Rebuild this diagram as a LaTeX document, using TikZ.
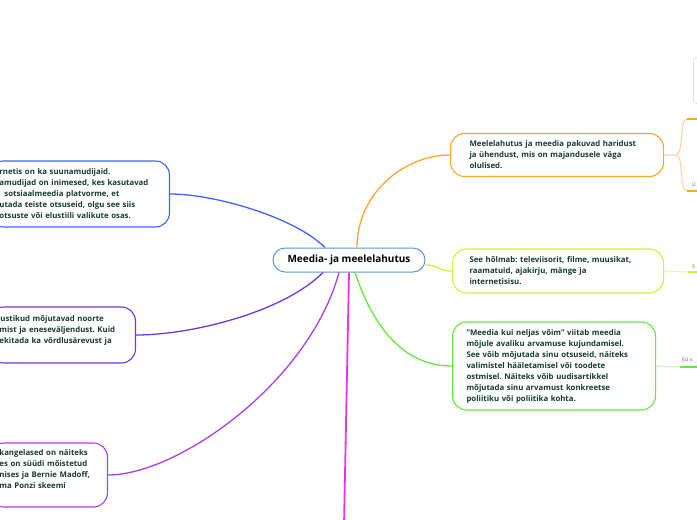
\documentclass[tikz,border=0pt]{standalone}
\usepackage{fontspec}
\setmainfont{Open Sans}
\usepackage{xcolor}
\usetikzlibrary{positioning}
\frenchspacing

\definecolor{mapink}{RGB}{22,62,46}
\definecolor{hubblue}{RGB}{91,155,213}
\definecolor{branchorange}{RGB}{250,168,40}
\definecolor{branchlime}{RGB}{212,240,50}
\definecolor{branchgreen}{RGB}{96,235,60}
\definecolor{branchmagenta}{RGB}{235,50,235}
\definecolor{branchviolet}{RGB}{175,60,240}
\definecolor{branchindigo}{RGB}{110,55,235}
\definecolor{branchblue}{RGB}{60,100,250}

\begin{document}
\begin{tikzpicture}[
  x=1pt, y=-1pt,
  every node/.style={font=\fontsize{7.8}{11}\selectfont\bfseries, text=mapink},
  link/.style={line width=1.3pt},
  twiglink/.style={line width=1pt},
  topicbox/.style={
    rounded corners=14pt,
    draw,
    line width=1.1pt,
    fill=white,
    align=left,
    inner ysep=4pt
  },
  hubbox/.style={
    rounded corners=12pt,
    draw=hubblue,
    line width=1pt,
    fill=white,
    minimum width=152pt,
    minimum height=24pt,
    font=\fontsize{10}{12}\selectfont\bfseries,
    text=black
  },
  twiglabel/.style={font=\fontsize{5}{6}\selectfont, text=gray!70!black, inner sep=0pt}
]
\useasboundingbox (0,0) rectangle (697,520);
\clip (0,0) rectangle (697,520);

\node[hubbox] (hub) at (349,260) {Meedia- ja meelelahutus};

\node[topicbox, draw=branchorange, anchor=west, text width=175pt, inner xsep=19pt, minimum height=43pt] (fun) at (450,155) {
  Meelelahutus ja meedia pakuvad haridust\\
  ja ühendust, mis on majandusele väga\\
  olulised.
};

\node[topicbox, draw=branchlime, anchor=west, text width=177pt, inner xsep=17pt, minimum height=44pt] (scope) at (452,271) {
  See hõlmab: televiisorit, filme, muusikat,\\
  raamatuid, ajakirju, mänge ja\\
  internetisisu.
};

\node[topicbox, draw=branchgreen, anchor=west, text width=175pt, inner xsep=14pt, minimum height=88pt] (power) at (452,366) {
  "Meedia kui neljas võim" viitab meedia\\
  mõjule avaliku arvamuse kujundamisel.\\
  See võib mõjutada sinu otsuseid, näiteks\\
  valimistel hääletamisel või toodete\\
  ostmisel. Näiteks võib uudisartikkel\\
  mõjutada sinu arvamust konkreetse\\
  poliitiku või poliitika kohta.
};

\node[topicbox, draw=branchblue, anchor=east, text width=160pt, inner xsep=10pt, minimum height=66pt] (infl) at (170,194) {
  rnetis on ka suunamudijaid.\\
  amudijad on inimesed, kes kasutavad\\
  \hspace*{5pt}sotsiaalmeedia platvorme, et\\
  utada teiste otsuseid, olgu see siis\\
  otsuste või elustiili valikute osas.
};

\node[topicbox, draw=branchindigo, anchor=east, text width=126pt, inner xsep=10pt, minimum height=56pt] (youth) at (136,335) {
  \hspace*{1pt}ustikud mõjutavad noorte\\
  mist ja eneseväljendust. Kuid\\
  ekitada ka võrdlusärevust ja\\
  \mbox{}
};

\node[topicbox, draw=branchviolet, anchor=east, text width=98pt, inner xsep=10pt, minimum height=64pt] (crime) at (108,475) {
  kangelased on näiteks\\
  es on süüdi mõistetud\\
  nises ja Bernie Madoff,\\
  ma Ponzi skeemi\\
  \mbox{}
};

\node[draw=gray!25, line width=0.8pt, rounded corners=3pt, minimum width=40pt, minimum height=46pt, anchor=north west] (funpic) at (693,57) {};

\node[twiglabel, anchor=base west] (funlow) at (692,186) {Ü};
\node[twiglabel, anchor=base west] (scopetag) at (692,268) {S};
\node[twiglabel, anchor=base west] (powertag) at (682,361) {EU s};

\coordinate (funfork) at (676,155);
\coordinate (funupbend) at (687,119);
\coordinate (funupend) at (700,119);
\coordinate (funlowbend) at (687,191);
\coordinate (funlowend) at (700,191);
\coordinate (scopebend) at (688,272);
\coordinate (scopeend) at (700,272);
\coordinate (powerbend) at (680,367);
\coordinate (powerend) at (700,367);
\coordinate (mediaend) at (344,525);

\draw[link, draw=branchorange] ([xshift=8pt]hub.north) .. controls +(0,-55) and +(-45,0) .. (fun.west);
\draw[link, draw=branchblue] ([xshift=-24pt]hub.north) .. controls +(-30,-30) and +(45,0) .. (infl.east);
\draw[link, draw=branchindigo] ([xshift=-26pt]hub.south) .. controls +(-40,40) and +(55,0) .. (youth.east);
\draw[link, draw=branchviolet] ([xshift=-10pt]hub.south) .. controls +(-30,110) and +(70,0) .. (crime.east);
\draw[link, draw=branchmagenta, line width=1.8pt] (hub.south) -- (mediaend);
\draw[link, draw=branchgreen] ([xshift=6pt]hub.south) .. controls +(20,60) and +(-45,0) .. (power.west);
\draw[link, draw=branchlime] ([yshift=-5pt]hub.east) .. controls +(15,0) and +(-15,0) .. (scope.west);

\draw[twiglink, draw=branchorange!50] (fun.east) -- (funfork) .. controls +(8,0) and +(-8,0) .. (funupbend);
\draw[twiglink, draw=branchorange!50] (funfork) .. controls +(8,0) and +(-8,0) .. (funlowbend);
\draw[link, draw=branchorange] (funupbend) -- (funupend);
\draw[link, draw=branchorange] (funlowbend) -- (funlowend);
\draw[twiglink, draw=branchlime!50] (scope.east) -- (scopebend);
\draw[link, draw=branchlime] (scopebend) -- (scopeend);
\draw[twiglink, draw=branchgreen!40] (power.east) -- (powerbend);
\draw[link, draw=branchgreen] (powerbend) -- (powerend);

\end{tikzpicture}
\end{document}
